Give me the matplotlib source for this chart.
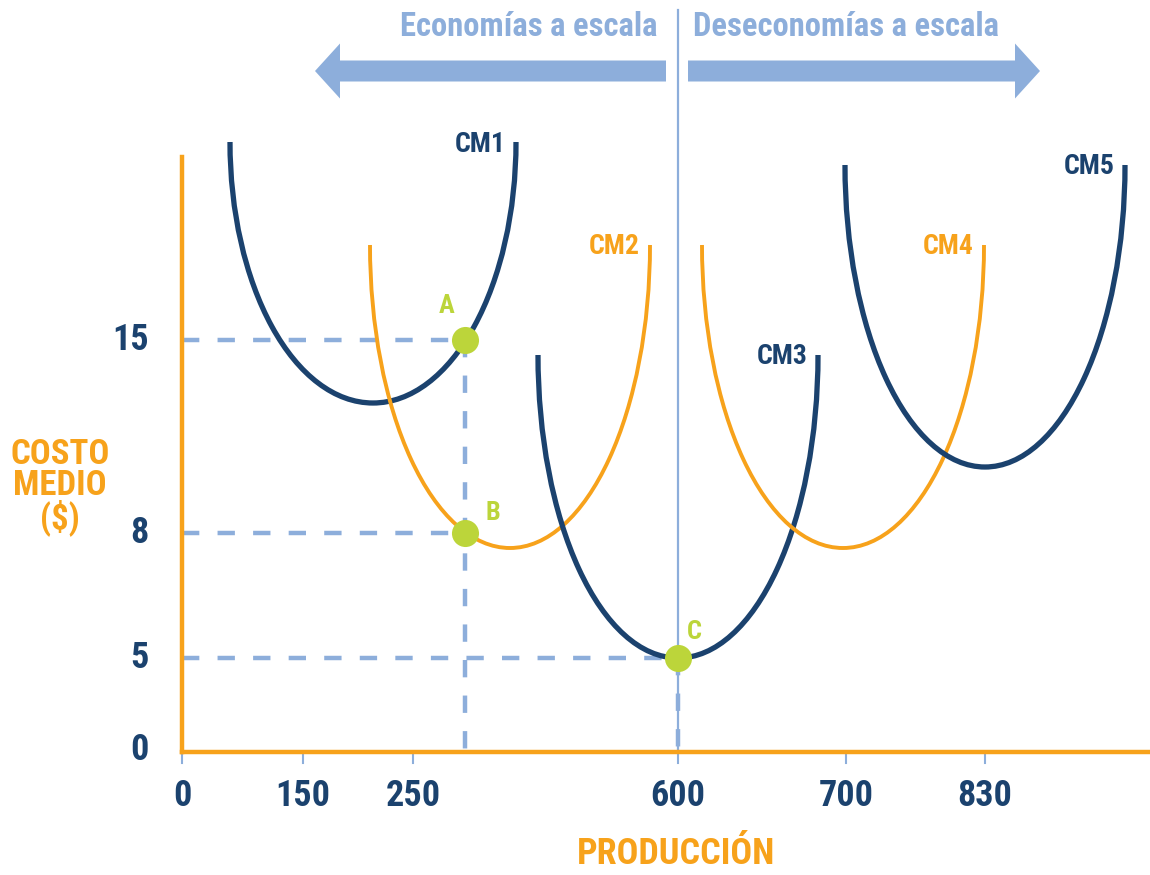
import matplotlib
matplotlib.use('Agg')
import matplotlib.pyplot as plt
from matplotlib.patches import Arc, FancyArrow
from matplotlib import font_manager

# colours
NAVY = '#1B426E'
ORANGE = '#F7A21B'
LBLUE = '#8DAEDB'
GREEN = '#BCD53A'

# pick a narrow bold font if there is one
FONT = 'DejaVu Sans'
for name in ['Liberation Sans Narrow', 'DejaVu Sans Condensed', 'Roboto Condensed']:
    try:
        font_manager.findfont(name, fallback_to_default=False)
        FONT = name
        break
    except ValueError:
        pass
plt.rcParams['font.family'] = [FONT, 'DejaVu Sans']
plt.rcParams['font.weight'] = 'bold'

# --- data (diagram units, origin at the axes corner) ---
x_tick_labels = ['0', '150', '250', '600', '700', '830']
x_tick_pos = [0, 121, 231, 496, 664, 803]
y_tick_labels = ['0', '5', '8', '15']
y_tick_pos = [2, 94, 219, 412]

curve_names = ['CM1', 'CM2', 'CM3', 'CM4', 'CM5']
curve_colors = [NAVY, ORANGE, NAVY, ORANGE, NAVY]
curve_min_x = [191, 328, 496, 661, 803]
curve_min_y = [349, 204, 94, 204, 285]
curve_half_w = [143, 140, 140, 141, 140]
curve_top_y = [610, 507, 397, 507, 587]

point_names = ['A', 'B', 'C']
point_x = [283, 283, 496]
point_y = [412, 219, 94]

fig = plt.figure(figsize=(11.5, 8.75), dpi=100)
ax = fig.add_axes([0, 0, 1, 1])
ax.set_xlim(-182, 968)
ax.set_ylim(-123, 752)
ax.axis('off')

# vertical divider at the minimum of CM3
ax.plot([496, 496], [0, 742], color=LBLUE, lw=1.6, zorder=1)

# dashed guide lines
for px, py in zip(point_x, point_y):
    ax.plot([0, px], [py, py], color=LBLUE, lw=3.2, dashes=(3.9, 4.1), zorder=1)
ax.plot([point_x[0], point_x[0]], [point_y[0], 0], color=LBLUE, lw=3.2, dashes=(3.9, 4.1), zorder=1)
ax.plot([point_x[2], point_x[2]], [point_y[2], 0], color=LBLUE, lw=3.2, dashes=(3.9, 4.1), zorder=1)

# cost curves as lower half ellipses
for name, col, mx, my, hw, ty in zip(curve_names, curve_colors, curve_min_x,
                                     curve_min_y, curve_half_w, curve_top_y):
    lw = 3.8 if col == NAVY else 2.8
    arc = Arc((mx, ty), 2 * hw, 2 * (ty - my), theta1=180, theta2=360,
              color=col, lw=lw, zorder=3)
    ax.add_patch(arc)
    ax.text(mx + hw - 10, ty - 2, name, color=col, fontsize=20,
            ha='right', va='center', zorder=4)

# axes
ax.plot([0, 0], [595, 0], color=ORANGE, lw=3.2, solid_capstyle='projecting', zorder=2)
ax.plot([0, 968], [0, 0], color=ORANGE, lw=3.2, solid_capstyle='projecting', zorder=2)

for pos, lab in zip(x_tick_pos, x_tick_labels):
    ax.plot([pos, pos], [-1, -11], color=LBLUE, lw=1.5, zorder=1)
    ax.text(pos, -44, lab, color=NAVY, fontsize=26, ha='center', va='center')
for pos, lab in zip(y_tick_pos, y_tick_labels):
    ax.text(-33, pos, lab, color=NAVY, fontsize=26, ha='right', va='center')

# points
ax.scatter(point_x, point_y, s=380, color=GREEN, zorder=5, linewidths=0)
label_off = [(-18, 34), (28, 20), (16, 26)]
for name, px, py, (dx, dy) in zip(point_names, point_x, point_y, label_off):
    ax.text(px + dx, py + dy, name, color=GREEN, fontsize=19,
            ha='center', va='center', zorder=5)

# axis titles
ax.text(-122, 265, 'COSTO\nMEDIO\n($)', color=ORANGE, fontsize=25,
        ha='center', va='center', linespacing=0.92)
ax.text(494, -102, 'PRODUCCIÓN', color=ORANGE, fontsize=26, ha='center', va='center')

# scale arrows at the top
ax.add_patch(FancyArrow(484, 681, -351, 0, width=21, head_width=55, head_length=25,
                        length_includes_head=True, color=LBLUE, lw=0))
ax.add_patch(FancyArrow(506, 681, 352, 0, width=21, head_width=55, head_length=25,
                        length_includes_head=True, color=LBLUE, lw=0))
ax.text(475, 725, 'Economías a escala', color=LBLUE, fontsize=23.5, ha='right', va='center')
ax.text(511, 725, 'Deseconomías a escala', color=LBLUE, fontsize=23.5, ha='left', va='center')

fig.savefig('out.png', dpi=100)
